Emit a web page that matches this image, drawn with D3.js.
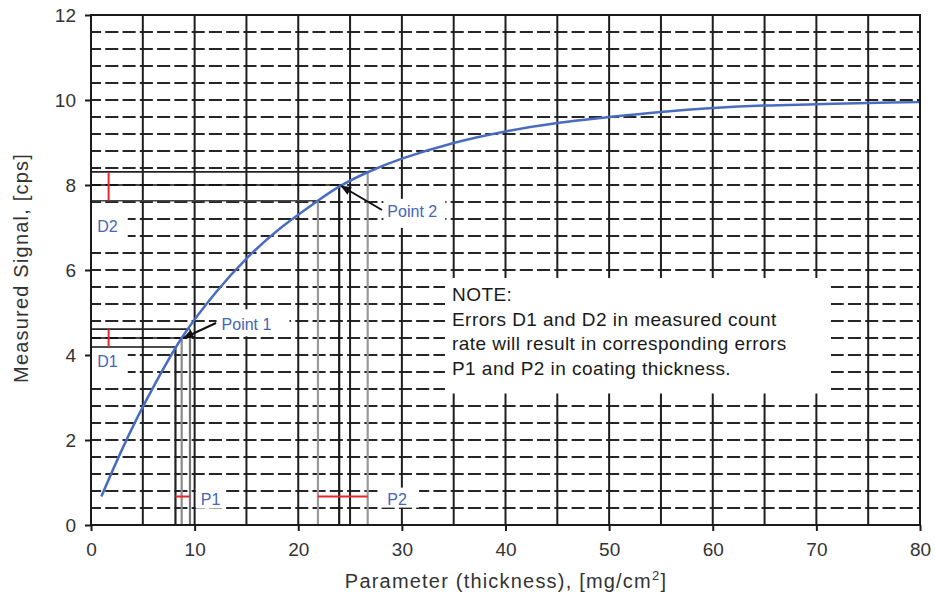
<!DOCTYPE html>
<html><head><meta charset="utf-8">
<script src="https://cdn.jsdelivr.net/npm/d3@7"></script>
<style>
body{margin:0;background:#fff}
svg{display:block}
text{font-family:"Liberation Sans",Arial,Helvetica,sans-serif}
</style>
</head><body>
<svg id="chart" width="935" height="598"></svg>
<script>
// ---------- data ----------
const xTicks = [0, 10, 20, 30, 40, 50, 60, 70, 80];
const yTicks = [0, 2, 4, 6, 8, 10, 12];
const xGrid = [5, 10, 15, 20, 25, 30, 35, 40, 45, 50, 55, 60, 65, 70, 75];
const yGridStep = 0.4;

// calibration curve
const curveX = [1, 3, 5, 8.75, 12, 15, 18, 21.9, 23.95, 26.7, 30, 35, 40, 45, 50, 55, 60, 65, 70, 75, 80];
const curveY = [0.67, 1.78, 2.78, 4.4, 5.46, 6.27, 6.93, 7.63, 7.96, 8.3, 8.62, 8.99, 9.26, 9.46, 9.6, 9.72, 9.81, 9.87, 9.9, 9.93, 9.95];

// error construction lines (lower, point, upper)
const point1X = [8.15, 8.75, 9.55];
const point1Y = [4.19, 4.4, 4.61];
const point2X = [21.9, 23.95, 26.7];
const point2Y = [7.63, 8.0, 8.31];
const dBarX = 1.7;     // x of red D bars
const pBarY = 0.67;    // y of red P bars

const noteLines = ["NOTE:", "Errors D1 and D2 in measured count", "rate will result in corresponding errors", "P1 and P2 in coating thickness."];
const xTitle = "Parameter (thickness), [mg/cm";
const yTitle = "Measured Signal, [cps]";

// ---------- setup ----------
const svg = d3.select("#chart");
const x = d3.scaleLinear().domain([0, 80]).range([91, 920]);
const y = d3.scaleLinear().domain([0, 12]).range([525, 15]);

svg.append("rect").attr("width", 935).attr("height", 598).attr("fill", "#fff");

const period = (x(5) - x(0)) / 3;
const yGrid = d3.range(1, 30).map(i => +(i * yGridStep).toFixed(2));

// horizontal dashed grid
svg.append("g").selectAll("line").data(yGrid).join("line")
  .attr("x1", x(0)).attr("x2", x(80))
  .attr("y1", d => y(d)).attr("y2", d => y(d))
  .attr("stroke", "#262626").attr("stroke-width", 1.9)
  .attr("stroke-dasharray", `${period - 4.2},4.2`)
  .attr("stroke-dashoffset", 3);

// vertical solid grid
svg.append("g").selectAll("line").data(xGrid).join("line")
  .attr("x1", d => x(d)).attr("x2", d => x(d))
  .attr("y1", y(0)).attr("y2", y(12))
  .attr("stroke", "#1e1e1e").attr("stroke-width", 2);

// ---------- labels (white backed) ----------
const boxLayer = svg.append("g");
const labelLayer = svg.append("g");
const blue = "#4565b8";

function label(txt, xv, yv, size, pad, extendLeft) {
  const t = labelLayer.append("text").attr("x", x(xv)).attr("y", y(yv))
    .attr("font-size", size).attr("fill", blue).text(txt);
  const b = t.node().getBBox();
  const x0 = extendLeft ? x(0) + 1 : b.x - pad[0];
  boxLayer.append("rect")
    .attr("x", x0).attr("y", b.y - pad[1])
    .attr("width", b.x + b.width + pad[2] - x0)
    .attr("height", b.height + pad[1] + pad[3])
    .attr("fill", "#fff");
  return t;
}
label("D2", 0.6, 6.9, 16, [0, 14, 10, 14], true);
label("D1", 0.6, 3.72, 16, [0, 7, 10, 16], true);
label("P1", 10.6, 0.48, 16, [5, 3, 4, 1], false);
label("P2", 28.6, 0.48, 16, [7, 3, 12, 0], false);
label("Point 1", 12.6, 4.58, 16, [5, 7, 18, 3], false);
label("Point 2", 28.6, 7.25, 16, [4, 4, 8, 8], false);

// note box
const note = labelLayer.append("g");
noteLines.forEach((s, i) => {
  note.append("text").attr("x", 452).attr("y", 301 + i * 24.5)
    .attr("font-size", 19).attr("letter-spacing", 0.45).attr("fill", "#1a1a1a").text(s);
});
const nb = note.node().getBBox();
boxLayer.append("rect").attr("x", nb.x - 7).attr("y", nb.y - 6)
  .attr("width", x(71.4) - (nb.x - 7)).attr("height", nb.height + 21).attr("fill", "#fff");

// ---------- construction lines ----------
const cons = svg.append("g");
function construction(px, py, hCol, vCol) {
  px.forEach((xv, i) => {
    cons.append("line").attr("x1", x(0)).attr("x2", x(xv)).attr("y1", y(py[i])).attr("y2", y(py[i]))
      .attr("stroke", hCol[i]).attr("stroke-width", 1.6);
    cons.append("line").attr("x1", x(xv)).attr("x2", x(xv)).attr("y1", y(0)).attr("y2", y(py[i]))
      .attr("stroke", vCol[i]).attr("stroke-width", 2.2);
  });
}
construction(point1X, point1Y, ["#111", "#111", "#222"], ["#222", "#8a8a8a", "#777"]);
construction(point2X, point2Y, ["#444", "#111", "#222"], ["#999", "#1a1a1a", "#999"]);

// red error bars
const red = "#e8262b";
[point1Y, point2Y].forEach(py => {
  svg.append("line").attr("x1", x(dBarX)).attr("x2", x(dBarX))
    .attr("y1", y(py[0])).attr("y2", y(py[2])).attr("stroke", red).attr("stroke-width", 2);
});
[point1X, point2X].forEach(px => {
  svg.append("line").attr("x1", x(px[0])).attr("x2", x(px[2]))
    .attr("y1", y(pBarY)).attr("y2", y(pBarY)).attr("stroke", red).attr("stroke-width", 2);
});

// ---------- curve ----------
const pts = curveX.map((d, i) => [d, curveY[i]]);
svg.append("path").datum(pts)
  .attr("d", d3.line().x(d => x(d[0])).y(d => y(d[1])).curve(d3.curveCatmullRom.alpha(0.5)))
  .attr("fill", "none").attr("stroke", "#4a6cc0").attr("stroke-width", 2.5);

// ---------- arrows ----------
svg.append("defs").append("marker").attr("id", "ah")
  .attr("viewBox", "0 0 10 10").attr("refX", 9).attr("refY", 5)
  .attr("markerWidth", 5.5).attr("markerHeight", 5.5).attr("orient", "auto")
  .append("path").attr("d", "M0,1 L10,5 L0,9 Z").attr("fill", "#111");
svg.append("line").attr("x1", 216).attr("y1", 323).attr("x2", x(point1X[1]) + 2).attr("y2", y(point1Y[1]))
  .attr("stroke", "#111").attr("stroke-width", 2).attr("marker-end", "url(#ah)");
svg.append("line").attr("x1", 382).attr("y1", 210).attr("x2", x(point2X[1]) + 2).attr("y2", y(point2Y[1]) + 1)
  .attr("stroke", "#111").attr("stroke-width", 2).attr("marker-end", "url(#ah)");

// bring labels on top
labelLayer.raise();

// ---------- frame, ticks ----------
svg.append("rect").attr("x", x(0)).attr("y", y(12)).attr("width", x(80) - x(0)).attr("height", y(0) - y(12))
  .attr("fill", "none").attr("stroke", "#1a1a1a").attr("stroke-width", 2);

const ax = svg.append("g").attr("transform", `translate(0,${y(0)})`)
  .call(d3.axisBottom(x).tickValues(xTicks).tickSize(6).tickPadding(12));
const ay = svg.append("g").attr("transform", `translate(${x(0)},0)`)
  .call(d3.axisLeft(y).tickValues(yTicks).tickSize(6).tickPadding(9));
[ax, ay].forEach(a => {
  a.select(".domain").remove();
  a.selectAll(".tick line").attr("stroke", "#1a1a1a").attr("stroke-width", 2);
  a.selectAll(".tick text").attr("font-size", 19).attr("fill", "#333")
    .attr("font-family", '"Liberation Sans",Arial,sans-serif');
});

// titles
const xt = svg.append("text").attr("x", 506).attr("y", 588).attr("text-anchor", "middle")
  .attr("font-size", 20).attr("letter-spacing", 1.2).attr("fill", "#333");
xt.append("tspan").text(xTitle);
xt.append("tspan").attr("font-size", 13).attr("dy", -8).text("2");
xt.append("tspan").attr("dy", 8).text("]");

svg.append("text").attr("transform", `translate(28,268) rotate(-90)`).attr("text-anchor", "middle")
  .attr("font-size", 20).attr("letter-spacing", 1.2).attr("fill", "#333").text(yTitle);
</script>
</body></html>
